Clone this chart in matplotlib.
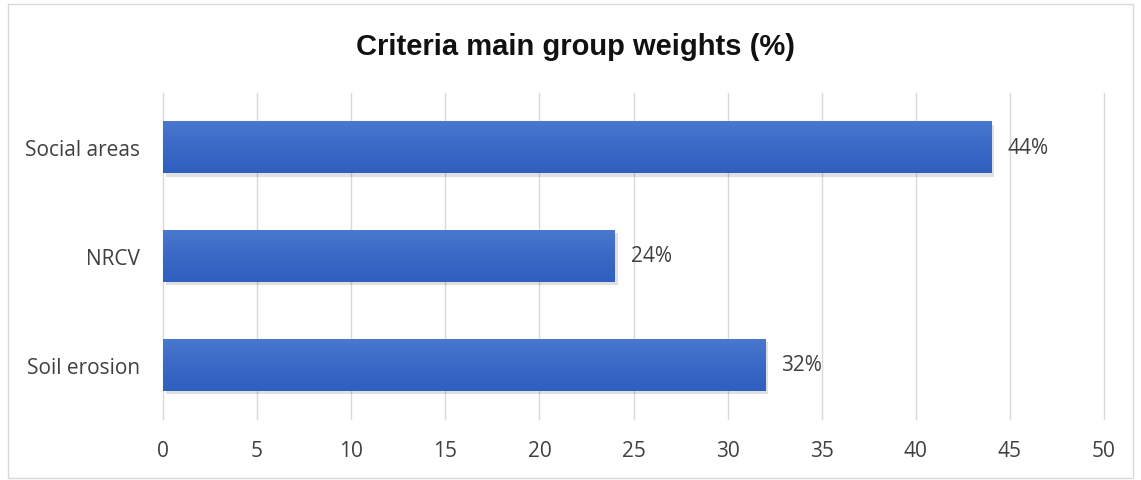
import matplotlib
matplotlib.use("Agg")
import matplotlib.pyplot as plt
import numpy as np
from matplotlib.patches import Rectangle
from matplotlib.colors import LinearSegmentedColormap

categories = ["Soil erosion", "NRCV", "Social areas"]
values = [32, 24, 44]
labels = ["32%", "24%", "44%"]
xticks = [0, 5, 10, 15, 20, 25, 30, 35, 40, 45, 50]

W, H = 1141, 481
fig = plt.figure(figsize=(W/100, H/100), dpi=100)
ax = fig.add_axes([163/W, 1-420/H, (1104-163)/W, (420-94)/H])

ypos = np.arange(len(categories))
bh = 0.48

# shadow
ax.barh(ypos - 0.03, values, height=bh, left=0.15, color="#000000", alpha=0.12, zorder=2)
bars = ax.barh(ypos, values, height=bh, color="#3d6cc7", zorder=3)
grad = np.linspace(0, 1, 100).reshape(-1, 1)
cmap = LinearSegmentedColormap.from_list("g", ["#2f5fbf", "#3a69c6", "#4a79cf"])
for b in bars:
    x0, y0 = b.get_x(), b.get_y()
    w, h = b.get_width(), b.get_height()
    im = ax.imshow(grad, extent=[x0, x0 + w, y0, y0 + h], origin="lower",
                   aspect="auto", cmap=cmap, zorder=4)
    im.set_clip_path(b)
ax.set_xlim(0, 50)
ax.set_ylim(-0.5, 2.5)

for y, v, lab in zip(ypos, values, labels):
    ax.text(v + 0.85, y, lab, va="center", ha="left", fontsize=15,
            family="Open Sans", color="#404040", zorder=5)

ax.set_xticks(xticks)
ax.set_xticklabels([str(t) for t in xticks], fontsize=15, family="Open Sans", color="#404040")
ax.set_yticks(ypos)
ax.set_yticklabels(categories, fontsize=15, family="Open Sans", color="#404040")
ax.tick_params(axis="both", length=0)
ax.tick_params(axis="x", pad=15)
ax.tick_params(axis="y", pad=16.5)
ax.grid(axis="x", color="#d9d9d9", linewidth=1, zorder=0)
for gl in ax.get_xgridlines():
    gl.set_clip_on(False)
ax.set_axisbelow(True)
for s in ax.spines.values():
    s.set_visible(False)

fig.text(575/W, 1-47/H, "Criteria main group weights (%)", ha="center", va="center",
         fontsize=21, fontweight="bold", family="Liberation Sans", color="#111111")

fig.patches.append(Rectangle((8/W, 2/H), (1133-8)/W, (476-2)/H, transform=fig.transFigure,
                             fill=False, edgecolor="#d9d9d9", linewidth=1))
fig.savefig("out.png", dpi=100, facecolor="white")
